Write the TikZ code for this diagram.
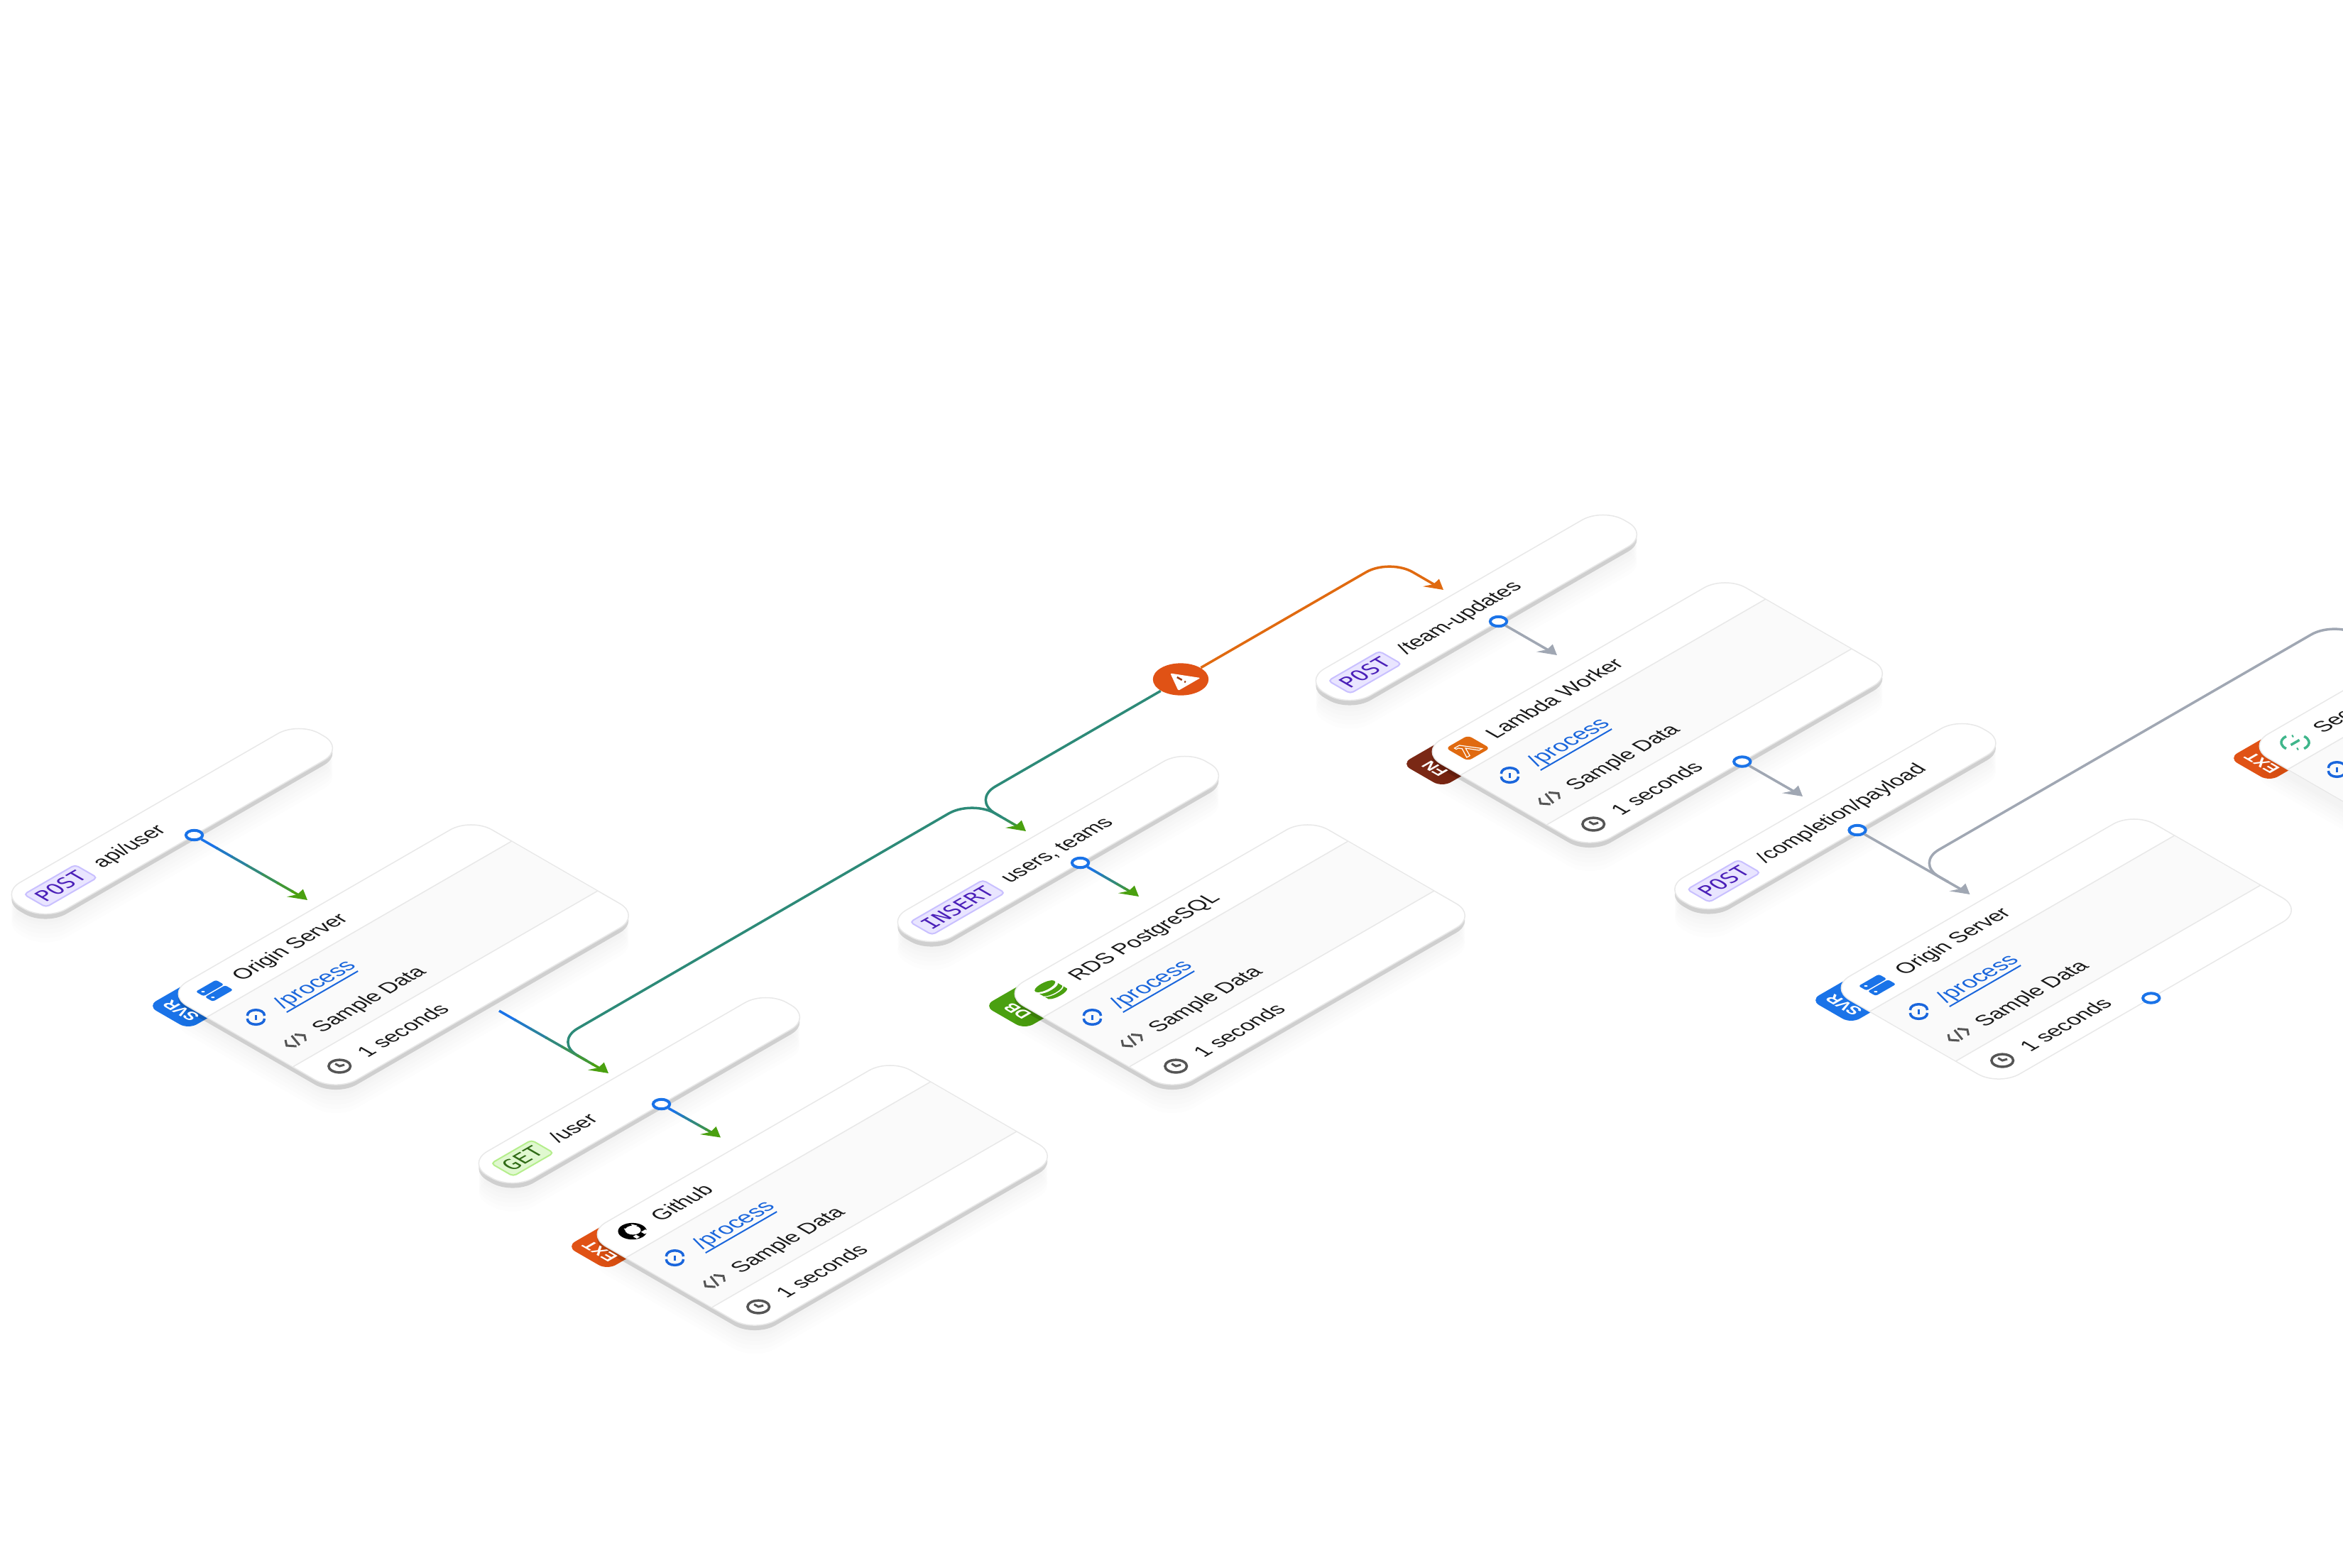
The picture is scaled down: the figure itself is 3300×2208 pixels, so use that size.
\documentclass[tikz,border=0pt]{standalone}
\usepackage{fontspec}
\setmainfont{Liberation Sans}
\setmonofont{DejaVu Sans Mono}
\usetikzlibrary{arrows.meta,calc}

\definecolor{edgeblue}{HTML}{1A73E8}
\definecolor{edgegreen}{HTML}{4AA010}
\definecolor{edgeteal}{HTML}{2D8A78}
\definecolor{edgeorange}{HTML}{E06A10}
\definecolor{edgegray}{HTML}{A0A7B3}
\definecolor{linegray}{HTML}{E8E8E8}
\definecolor{rowgray}{HTML}{FAFAFA}
\definecolor{icongray}{HTML}{555555}
\definecolor{linkblue}{HTML}{1A66DC}
\definecolor{postfill}{HTML}{E9E5FF}
\definecolor{postline}{HTML}{C9C0FF}
\definecolor{posttext}{HTML}{4A1FB8}
\definecolor{getfill}{HTML}{E0F8D0}
\definecolor{getline}{HTML}{B5EE8C}
\definecolor{gettext}{HTML}{2F6B15}
\definecolor{extred}{HTML}{E05215}
\definecolor{fnbrown}{HTML}{7A2815}
\definecolor{lambdaorange}{HTML}{E06A10}
\definecolor{secgreen}{HTML}{3FB68B}

\def\slab{0.15}
\def\soft{0.009}

\newcommand{\isoshadow}[2]{
  \foreach \off in {40,34,28,22,16,12} {
    \fill[black,opacity=\soft,rounded corners=0.34cm] (-\off,\off) rectangle (#1-\off,#2+\off);
  }
  \fill[black,opacity=\slab,rounded corners=0.34cm] (-7,7) rectangle (#1-7,#2+7);
}

\newcommand{\pill}[5]{
  \begin{scope}[iso={#2}]
    \isoshadow{487}{75}
    \draw[cardframe] (0,0) rectangle (487,75);
    \node[tagnode,#3] (#1Tag) at (19,38) {#4};
    \node[labeltext] (#1Path) at ($(#1Tag.east)+(16,9)$) {#5};
    \node[portnode] (#1) at (242,75) {};
  \end{scope}
}

\newcommand{\card}[5]{
  \begin{scope}[iso={#1}]
    \fill[#2,rounded corners=0.14cm] (-32,2) rectangle (40,68);
    \isoshadow{496}{276}
    \node[tablabel,rotate=90] at (-12,36) {#3};
    \draw[cardframe] (0,0) rectangle (496,276);
    \fill[rowgray] (1,66) rectangle (495,206);
    \draw[linegray,line width=0.015cm] (0,66) -- (496,66) (0,206) -- (496,206);
    #5
    \node[labeltext] at (79,44) {#4};
  \end{scope}
}

\newcommand{\iconprocess}{
  \begin{scope}[shift={(40,106)},linkblue,line width=0.035cm]
    \draw (-5,-9) .. controls (6,-20) and (20,-6) .. (9,5);
    \draw (-9,-5) .. controls (-20,6) and (-6,20) .. (5,9);
    \draw (3,-3) -- (-4,4);
  \end{scope}
}

\newcommand{\cardrows}[1]{
  \begin{scope}[iso={#1}]
    \iconprocess
    \node[labeltext,linkblue,font=\fontsize{9}{9}\selectfont] at (74,117) {/process};
    \draw[linkblue,line width=0.02cm] (72,124) -- (188,124);
    \draw[icongray,line width=0.03cm] (32,162) -- (25,171) -- (32,180);
    \draw[icongray,line width=0.03cm] (47,162) -- (54,171) -- (47,180);
    \draw[icongray,line width=0.03cm] (36,181) -- (43,161);
    \node[labeltext] at (71,182) {Sample Data};
    \draw[icongray,line width=0.035cm] (39,243) circle[radius=0.125cm];
    \draw[icongray,line width=0.03cm] (39,236) -- (39,243) -- (45,245);
    \node[labeltext] at (73,254) {1 seconds};
  \end{scope}
}

\newcommand{\iconserver}{
  \fill[edgeblue,rounded corners=0.03cm] (27,21) rectangle (60,34);
  \fill[edgeblue,rounded corners=0.03cm] (27,36) rectangle (60,49);
  \fill[white] (33,27) circle[radius=0.02cm] (33,43) circle[radius=0.02cm];
}

\newcommand{\icongithub}{
  \fill[black] (43,34) circle[radius=0.165cm];
  \fill[white] (45,33) circle[radius=0.09cm];
  \fill[white] (40,23) -- (43,28) -- (37,30) -- cycle (52,23) -- (55,30) -- (49,28) -- cycle;
  \fill[white] (36,42) rectangle (41,48);
  \fill[white] (49,42) rectangle (56,48);
}

\newcommand{\icondb}{
  \fill[edgegreen] (45,24) circle[x radius=0.155cm,y radius=0.065cm];
  \fill[edgegreen] (30,30) .. controls (34,36) and (56,36) .. (60,30) -- (60,37) .. controls (56,43) and (34,43) .. (30,37) -- cycle;
  \fill[edgegreen] (30,39) .. controls (34,45) and (56,45) .. (60,39) -- (60,45) .. controls (56,51) and (34,51) .. (30,45) -- cycle;
}

\newcommand{\iconlambda}{
  \fill[lambdaorange,rounded corners=0.06cm] (26,16) rectangle (62,52);
  \draw[white,line width=0.012cm] (33,23) -- (41,23) -- (55,46) -- (50,46) -- (42,32) -- (35,46) -- (30,46) -- (38.5,30) -- (36,26) -- (33,26) -- cycle;
}

\newcommand{\iconsec}{
  \draw[secgreen,line width=0.035cm] (44,34) ++(-95:0.16cm) arc[start angle=-95,end angle=5,radius=0.16cm];
  \draw[secgreen,line width=0.035cm] (44,34) ++(85:0.16cm) arc[start angle=85,end angle=185,radius=0.16cm];
  \draw[secgreen,line width=0.035cm] (37,34) -- (51,34) (50,23) -- (52,23) (36,45) -- (38,45);
}

\newcommand{\gradedge}[4]{
  \foreach \i [evaluate=\i as \mix using int(\i*100/6)] in {0,...,5} {
    \draw[edgeline,#4!\mix!#3] ($(#1)!\i/7!(#2)$) -- ($(#1)!\i/7+0.15!(#2)$);
  }
  \draw[edgeline,#4,->] ($(#1)!0.85!(#2)$) -- (#2);
}

\begin{document}
\begin{tikzpicture}[x=0.01cm,y=-0.01cm,>={Stealth[length=0.2cm,width=0.2cm,slant=0.7,inset=0.04cm]},
    iso/.style={shift={#1},cm={0.866,0.5,-0.866,0.5,(0,0)},every node/.style={transform shape}}]
    \tikzstyle{cardframe}=[draw=linegray,fill=white,line width=0.015cm,rounded corners=0.34cm]
    \tikzstyle{tagnode}=[draw,anchor=west,rounded corners=0.05cm,line width=0.02cm,inner xsep=0.065cm,inner ysep=0.03cm,minimum height=0.36cm,font=\ttfamily\fontsize{8.3}{8.3}\selectfont]
    \tikzstyle{posttag}=[fill=postfill,draw=postline,text=posttext]
    \tikzstyle{gettag}=[fill=getfill,draw=getline,text=gettext]
    \tikzstyle{labeltext}=[anchor=base west,inner sep=0pt,text=black!90,font=\fontsize{8.4}{9}\selectfont]
    \tikzstyle{tablabel}=[text=white,inner sep=0pt,font=\bfseries\fontsize{6.6}{6.6}\selectfont]
    \tikzstyle{portnode}=[circle,draw=edgeblue,fill=white,line width=0.04cm,inner sep=0pt,minimum size=0.19cm]
    \tikzstyle{alertnode}=[circle,fill=extred,inner sep=0pt,minimum size=0.64cm]
    \tikzstyle{edgeline}=[line width=0.035cm]

    \path[use as bounding box,clip] (0,0) rectangle (3300,2208);

    \pill{portApi}{(-1,1260)}{posttag}{POST}{api/user}
    \card{(234,1400)}{edgeblue}{SVR}{Origin Server}{\iconserver}
    \cardrows{(234,1400)}

    \pill{portGet}{(657,1639)}{gettag}{GET}{/user}
    \card{(824,1739)}{extred}{EXT}{Github}{\icongithub}
    \cardrows{(824,1739)}

    \pill{portInsert}{(1247,1299)}{posttag}{INSERT}{users, teams}
    \card{(1412,1400)}{edgegreen}{DB}{RDS PostgreSQL}{\icondb}
    \cardrows{(1412,1400)}

    \pill{portTeam}{(1836,959)}{posttag}{POST}{/team-updates}
    \card{(2000,1059)}{fnbrown}{FN}{Lambda Worker}{\iconlambda}
    \cardrows{(2000,1059)}
    \begin{scope}[iso={(2000,1059)}]
        \node[portnode] (portLambda) at (248,276) {};
    \end{scope}

    \pill{portPayload}{(2341.5,1253)}{posttag}{POST}{/completion/payload}
    \def\slab{0}
    \def\soft{0}
    \card{(2576,1392)}{edgeblue}{SVR}{Origin Server}{\iconserver}
    \cardrows{(2576,1392)}
    \begin{scope}[iso={(2576,1392)}]
        \node[portnode] (portOrigin) at (248,276) {};
    \end{scope}

    \def\soft{0.006}
    \card{(3165,1051)}{extred}{EXT}{Sec}{\iconsec}
    \begin{scope}[iso={(3165,1051)}]
        \iconprocess
    \end{scope}

    \begin{scope}[iso={(1663,957)}]
        \node[alertnode] (alert) at (0,0) {};
        \fill[white,rounded corners=0.02cm] (0,-17) -- (18,14) -- (-18,14) -- cycle;
        \draw[extred!70!black,line width=0.025cm] (0,-6) -- (0,2) (0,6) -- (0,8);
    \end{scope}

    \coordinate (tipApi) at (433,1268);
    \coordinate (gapOrigin) at (703,1424);
    \coordinate (tipGet) at (857,1512);
    \coordinate (tipGithub) at (1015,1602.5);
    \coordinate (tipInsert) at (1445,1171);
    \coordinate (tipRds) at (1604,1263);
    \coordinate (tipTeam) at (2033,831);
    \coordinate (tipLambda) at (2193,923);
    \coordinate (tipPayload) at (2539,1122);
    \coordinate (tipOrigin) at (2774.5,1260);
    \coordinate (kneeGet) at (780.6,1468);
    \coordinate (kneeInsert) at (1369,1127);
    \coordinate (kneeTeam) at (1957,787);
    \coordinate (kneeOrigin) at (2698,1216);
    \coordinate (kneeSec) at (3288,875);
    \coordinate (offSec) at (3460,974);
    \coordinate (mergeGet) at ($(kneeGet)!0.6!(tipGet)$);
    \coordinate (mergeInsert) at ($(kneeInsert)!0.55!(tipInsert)$);
    \coordinate (mergeOrigin) at ($(kneeOrigin)!0.6!(tipOrigin)$);

    \draw[edgeline,edgeteal,rounded corners=0.38cm] (mergeGet) -- (kneeGet) -- (kneeInsert) -- (mergeInsert);
    \draw[edgeline,edgeteal,rounded corners=0.38cm] (alert) -- (kneeInsert) -- (mergeInsert);
    \gradedge{mergeInsert}{tipInsert}{edgeteal}{edgegreen}
    \draw[edgeline,edgeorange,rounded corners=0.38cm,->] (alert) -- (kneeTeam) -- (tipTeam);
    \draw[edgeline,edgegray,rounded corners=0.38cm] (offSec) -- (kneeSec) -- (kneeOrigin) -- (mergeOrigin);

    \gradedge{portApi.south}{tipApi}{edgeblue}{edgegreen}
    \gradedge{gapOrigin}{tipGet}{edgeblue}{edgegreen}
    \gradedge{portGet.south}{tipGithub}{edgeblue}{edgegreen}
    \gradedge{portInsert.south}{tipRds}{edgeblue}{edgegreen}
    \draw[edgeline,edgegray,->] (portTeam.south) -- (tipLambda);
    \draw[edgeline,edgegray,->] (portLambda.south) -- (tipPayload);
    \draw[edgeline,edgegray,->] (portPayload.south) -- (tipOrigin);
\end{tikzpicture}
\end{document}
